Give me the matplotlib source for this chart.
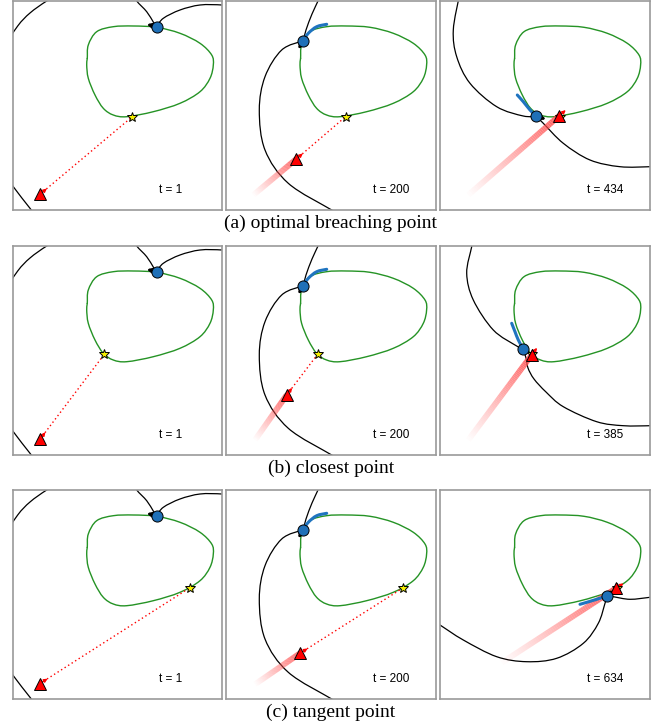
import numpy as np
import matplotlib
matplotlib.use("Agg")
import matplotlib.pyplot as plt
from matplotlib.path import Path
from matplotlib.patches import PathPatch
from matplotlib.collections import LineCollection

# coordinates are arena units (1 unit ~ 1 px), y grows downwards

# target region boundary (same in every panel)
region_x = [74.6, 75.6, 84.0, 100.6, 120.6, 144.0, 167.3, 187.3, 199.0, 200.6,
            197.3, 187.3, 167.3, 140.6, 114.0, 100.6, 90.6, 82.3, 75.6, 74.0]
region_y = [57.3, 44.0, 30.7, 25.7, 25.0, 26.3, 32.3, 42.3, 54.0, 64.0,
            77.3, 90.7, 102.3, 110.7, 115.7, 114.0, 107.3, 94.0, 77.3, 64.0]

row_names = ["(a) optimal breaching point", "(b) closest point", "(c) tangent point"]
time_steps = [[1, 200, 434], [1, 200, 385], [1, 200, 634]]

# aim point on the region boundary, one per row
aim_points = [(119.6, 115.7), (91.6, 108.3), (177.3, 97.7)]

# evader (red triangle)
evader_pos = [[(27.3, 193.3), (70.0, 158.3), (119.0, 115.0)],
              [(27.3, 193.3), (60.7, 149.0), (91.7, 109.0)],
              [(27.3, 193.5), (74.0, 163.3), (176.0, 98.3)]]
evader_tail = [[None, (27.3, 194.0), (28.3, 194.0)],
               [None, (29.0, 194.0), (28.3, 194.0)],
               [None, (29.0, 194.3), (61.7, 172.7)]]

# pursuer (blue dot) and its heading tip
pursuer_pos = [[(144.0, 25.7), (77.3, 39.7), (96.0, 115.0)],
               [(144.0, 25.7), (77.3, 39.7), (83.3, 103.3)],
               [(144.0, 25.7), (77.3, 39.7), (167.3, 105.7)]]
pursuer_head = [[(134.0, 23.3), (72.3, 48.3), (106.0, 118.3)],
                [(134.0, 23.3), (72.3, 48.3), (87.3, 109.0)],
                [(134.0, 23.3), (72.3, 48.3), (172.7, 100.0)]]
pursuer_path_t200 = [(77.3, 39.7), (82.3, 32.3), (90.7, 25.7), (100.7, 23.3)]
pursuer_path_end = [[(96.0, 115.0), (90.0, 109.0), (83.3, 100.7), (77.3, 94.0)],
                    [(83.3, 103.3), (78.3, 94.0), (75.0, 85.7), (71.7, 77.3)],
                    [(167.3, 105.7), (156.7, 109.3), (140.0, 114.3)]]

# capture boundary pieces
bound_t1 = [[(52, -10), (34, 0), (17.3, 12), (5, 25), (-10, 48)],
            [(-8, 172), (0.6, 185.7), (17.3, 207.3), (24, 216)],
            [(120, -8), (124, 0), (134, 10.7), (140.6, 21), (144, 25.7)],
            [(144, 25.7), (150.6, 17.3), (167.3, 9), (187.3, 4), (209, 4), (218, 6)]]
bound_t200 = [[(94, -6), (92, 0), (86, 13), (80, 29), (77.3, 39.7)],
              [(77.3, 39.7), (55.7, 49), (39, 75.7), (33.3, 109), (39, 149),
               (62.3, 182.3), (105.7, 209), (115, 215)]]
bound_end = [
    [[(19.5, -6), (13.3, 29), (16.7, 55.7), (30, 82.3), (56.7, 105.7), (83.3, 115), (96, 115)],
     [(96, 115), (103.3, 122.3), (123.3, 142.3), (150, 159), (180, 165.7), (210, 165.7), (220, 165)]],
    [[(32.5, -6), (31.7, 0.7), (26.7, 27.3), (33.3, 54), (53.3, 84), (76.7, 100), (83.3, 103.3)],
     [(83.3, 103.3), (86, 112), (88, 122), (94, 133), (106, 146), (123.3, 160.7),
      (156.7, 175.7), (183.3, 179.7), (210, 179.7), (220, 179)]],
    [[(-8, 130), (0, 135), (23.3, 150), (56.7, 166.7), (86.7, 171.7), (116.7, 168.3),
      (143.3, 153.3), (158.3, 133.3), (165, 113.3), (167.3, 105.7)],
     [(167.3, 105.7), (173.3, 106.7), (190, 109.3), (210, 107.3), (220, 106)]],
]

col_left = [12.7, 226, 440]
col_w = [209.3, 210, 210]
row_top = [1, 246, 490]
panel_h = 209
W, H = 654, 727


def smooth_path(pts, closed=False):
    P = np.asarray(pts, float)
    if closed:
        P = np.vstack([P[-1], P, P[0], P[1]])
    else:
        P = np.vstack([P[0], P, P[-1]])
    verts = [P[1]]
    codes = [Path.MOVETO]
    for i in range(1, len(P) - 2):
        c1 = P[i] + (P[i + 1] - P[i - 1]) / 6
        c2 = P[i + 1] - (P[i + 2] - P[i]) / 6
        verts += [c1, c2, P[i + 1]]
        codes += [Path.CURVE4] * 3
    return Path(verts, codes)


def draw_curve(ax, pts, color, lw, closed=False, z=2):
    ax.add_patch(PathPatch(smooth_path(pts, closed), fill=False, edgecolor=color,
                           lw=lw, zorder=z, capstyle="round"))


def draw_trail(ax, head, tail, n=60):
    head = np.array(head)
    tail = np.array(tail)
    s = np.linspace(0, 1, n + 1)
    pts = head + (tail - head) * s[:, None]
    segs = np.stack([pts[:-1], pts[1:]], axis=1)
    cols = [(1.0, 0.3, 0.3, 0.9 * (1 - v) ** 1.1) for v in s[:-1]]
    ax.add_collection(LineCollection(segs, colors=cols, linewidths=4.2,
                                     capstyle="butt", zorder=3))


fig = plt.figure(figsize=(W / 100, H / 100), dpi=100)

for r in range(3):
    for c in range(3):
        ax = fig.add_axes([col_left[c] / W, 1 - (row_top[r] + panel_h) / H,
                           col_w[c] / W, panel_h / H])
        ax.set_xlim(0, col_w[c])
        ax.set_ylim(panel_h, 0)
        ax.set_xticks([])
        ax.set_yticks([])
        for sp in ax.spines.values():
            sp.set_color("#9a9a9a")
            sp.set_linewidth(1.2)

        draw_curve(ax, list(zip(region_x, region_y)), "#259325", 1.0, closed=True)

        if c == 0:
            pieces = bound_t1
        elif c == 1:
            pieces = bound_t200
        else:
            pieces = bound_end[r]
        for p in pieces:
            draw_curve(ax, p, "black", 0.9)

        ev = np.array(evader_pos[r][c])
        aim = np.array(aim_points[r])
        tail = evader_tail[r][c]
        if tail is not None:
            draw_trail(ax, ev, tail)

        d = aim - ev
        if np.hypot(*d) > 5:
            ax.plot([ev[0], aim[0]], [ev[1], aim[1]], color="red", lw=1.0,
                    ls=(0, (1, 2)), zorder=4)
            u = d / np.hypot(*d)
        else:
            u = ev - np.array(tail)
            u = u / np.hypot(*u)
        ax.annotate("", xy=ev + 9 * u, xytext=ev,
                    arrowprops=dict(arrowstyle="-|>", color="red", lw=1.0,
                                    mutation_scale=5, shrinkA=0, shrinkB=0),
                    zorder=4)

        if c == 1:
            path = pursuer_path_t200
        elif c == 2:
            path = pursuer_path_end[r]
        else:
            path = None
        if path is not None:
            draw_curve(ax, path, "#1f74c0", 2.2, z=5)

        ax.plot(*aim, marker="*", ms=7.5, mfc="#f5f000", mec="black", mew=0.7,
                zorder=6)
        ax.plot(*ev, marker="^", ms=9, mfc="#ff0000", mec="black", mew=0.7,
                zorder=7)

        pp = pursuer_pos[r][c]
        ph = pursuer_head[r][c]
        ax.annotate("", xy=ph, xytext=pp,
                    arrowprops=dict(arrowstyle="-|>", color="black", lw=1.8,
                                    mutation_scale=6, shrinkA=0, shrinkB=0),
                    zorder=7)
        ax.plot(*pp, marker="o", ms=8, mfc="#1f70b8", mec="black", mew=0.7,
                zorder=8)

        ax.text(146.7, 189, "t = %d" % time_steps[r][c], ha="left", va="center",
                fontsize=8.5, family="Liberation Sans", zorder=9)

    fig.text(331 / W, 1 - (row_top[r] + panel_h + 13) / H, row_names[r],
             ha="center", va="center", fontsize=14, family="Liberation Serif")

fig.savefig("out.png", dpi=100)
